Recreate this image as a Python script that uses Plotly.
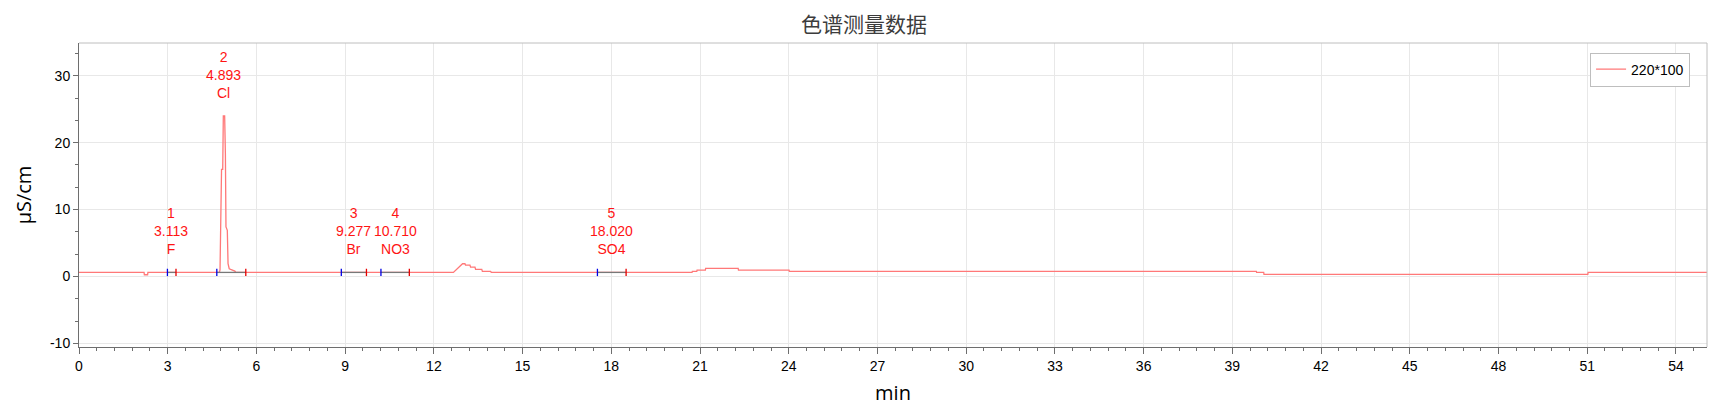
import plotly.graph_objects as go

# ---- chromatogram trace (time in min, conductivity in µS/cm) ----
time_min = [0, 2.20, 2.21, 2.32, 2.33, 4.75, 4.769, 4.80, 4.82, 4.86, 4.88, 4.925, 4.95,
            4.97, 5.015, 5.04, 5.08, 5.27, 5.30, 12.66, 12.97, 13.05, 13.07, 13.22, 13.24,
            13.39, 13.41, 13.62, 13.64, 13.92, 13.94, 20.73, 20.74, 20.89, 20.90, 21.18,
            21.19, 22.29, 22.30, 24.01, 24.02, 39.81, 39.82, 40.06, 40.07, 51.02, 51.03, 55.05]
signal = [0.6, 0.6, 0.25, 0.25, 0.6, 0.6, 1.0, 15.4, 16.0, 16.0, 24.0, 24.0, 18.3,
          7.4, 6.9, 1.9, 1.15, 0.8, 0.6, 0.6, 1.9, 1.9, 1.7, 1.7, 1.4,
          1.4, 1.05, 1.05, 0.75, 0.75, 0.6, 0.6, 0.75, 0.75, 0.95, 0.95,
          1.2, 1.2, 0.95, 0.95, 0.75, 0.75, 0.6, 0.6, 0.3, 0.3, 0.6, 0.6]
series_name = "220*100"

# ---- identified peaks ----
peak_ids = ["1", "2", "3", "4", "5"]
peak_rt = [3.113, 4.893, 9.277, 10.710, 18.020]
peak_names = ["F", "Cl", "Br", "NO3", "SO4"]
peak_height = [0.6, 24.0, 0.6, 0.6, 0.6]
peak_start = [2.99, 4.66, 8.87, 10.21, 17.53]
peak_end = [3.28, 5.64, 9.72, 11.17, 18.50]
baseline = 0.6

x_ticks = list(range(0, 55, 3))
y_ticks = [-10, 0, 10, 20, 30]

LINE_RED = "rgb(255,120,120)"

fig = go.Figure()
fig.add_trace(go.Scatter(x=time_min, y=signal, mode="lines", name=series_name,
                         line=dict(color=LINE_RED, width=1.3)))

# baseline segments of integrated peaks (grey), start ticks (blue), end ticks (red)
gx, gy, bx, by, rx, ry = [], [], [], [], [], []
for s, e in zip(peak_start, peak_end):
    gx += [s, e, None]; gy += [baseline, baseline, None]
    bx += [s, s, None]; by += [baseline - 0.55, baseline + 0.55, None]
    rx += [e, e, None]; ry += [baseline - 0.55, baseline + 0.55, None]
fig.add_trace(go.Scatter(x=gx, y=gy, mode="lines", showlegend=False,
                         line=dict(color="rgb(120,120,120)", width=1.3), hoverinfo="skip"))
fig.add_trace(go.Scatter(x=bx, y=by, mode="lines", showlegend=False,
                         line=dict(color="rgb(0,0,230)", width=1.3), hoverinfo="skip"))
fig.add_trace(go.Scatter(x=rx, y=ry, mode="lines", showlegend=False,
                         line=dict(color="rgb(230,0,0)", width=1.3), hoverinfo="skip"))

for pid, rt, nm, h in zip(peak_ids, peak_rt, peak_names, peak_height):
    fig.add_annotation(x=rt, y=h, text=f"{pid}<br>{rt:.3f}<br>{nm}", showarrow=False,
                       xanchor="center", yanchor="bottom", yshift=13,
                       font=dict(family="Liberation Sans, Arial", size=14, color="rgb(255,20,20)"))

# page body has an 8px margin, so the figure is 16px smaller than the window
fig.update_layout(
    width=1712, height=403,
    margin=dict(l=71, r=13, t=35, b=64, autoexpand=False),
    paper_bgcolor="white", plot_bgcolor="white",
    title=dict(text="色谱测量数据", x=0.5, xanchor="center", y=0.9578, yanchor="middle",
               font=dict(family="Noto Sans CJK SC", size=21, color="rgb(60,60,60)")),
    showlegend=True,
    legend=dict(x=0.9896, y=0.9685, xanchor="right", yanchor="top",
                bordercolor="rgb(190,190,190)", borderwidth=1, bgcolor="white",
                font=dict(family="Liberation Sans, Arial", size=14, color="black"),
                itemwidth=30),
    font=dict(family="Liberation Sans, Arial", size=13, color="black"),
)
fig.update_xaxes(range=[0, 55.05], tickvals=x_ticks, ticktext=[str(v) for v in x_ticks],
                 automargin=False,
                 showgrid=True, gridcolor="rgb(232,232,232)", gridwidth=1,
                 zeroline=False, showline=True, linecolor="rgb(110,110,110)", linewidth=1,
                 ticks="outside", ticklen=6, tickcolor="rgb(110,110,110)",
                 minor=dict(dtick=0.6, tick0=0, ticks="outside", ticklen=3,
                            tickcolor="rgb(110,110,110)", showgrid=False),
                 tickfont=dict(size=14),
                 title=dict(text="min", font=dict(family="Open Sans, Arial", size=20), standoff=13))
fig.update_yaxes(range=[-10.55, 34.9], tickvals=y_ticks, ticktext=[str(v) for v in y_ticks],
                 automargin=False,
                 showgrid=True, gridcolor="rgb(232,232,232)", gridwidth=1,
                 zeroline=False, showline=True, linecolor="rgb(110,110,110)", linewidth=1,
                 ticks="outside", ticklen=5, tickcolor="rgb(110,110,110)",
                 minor=dict(dtick=10/3, tick0=0, ticks="outside", ticklen=3,
                            tickcolor="rgb(110,110,110)", showgrid=False),
                 tickfont=dict(size=14),
                 title=dict(text="μS/cm", font=dict(family="Open Sans, Arial", size=20), standoff=12))

# light frame on top and right
fig.add_shape(type="line", xref="paper", yref="paper", x0=0, x1=1, y0=1, y1=1,
              line=dict(color="rgb(190,190,190)", width=1))
fig.add_shape(type="line", xref="paper", yref="paper", x0=1, x1=1, y0=0, y1=1,
              line=dict(color="rgb(190,190,190)", width=1))

fig.write_html("out.html")
